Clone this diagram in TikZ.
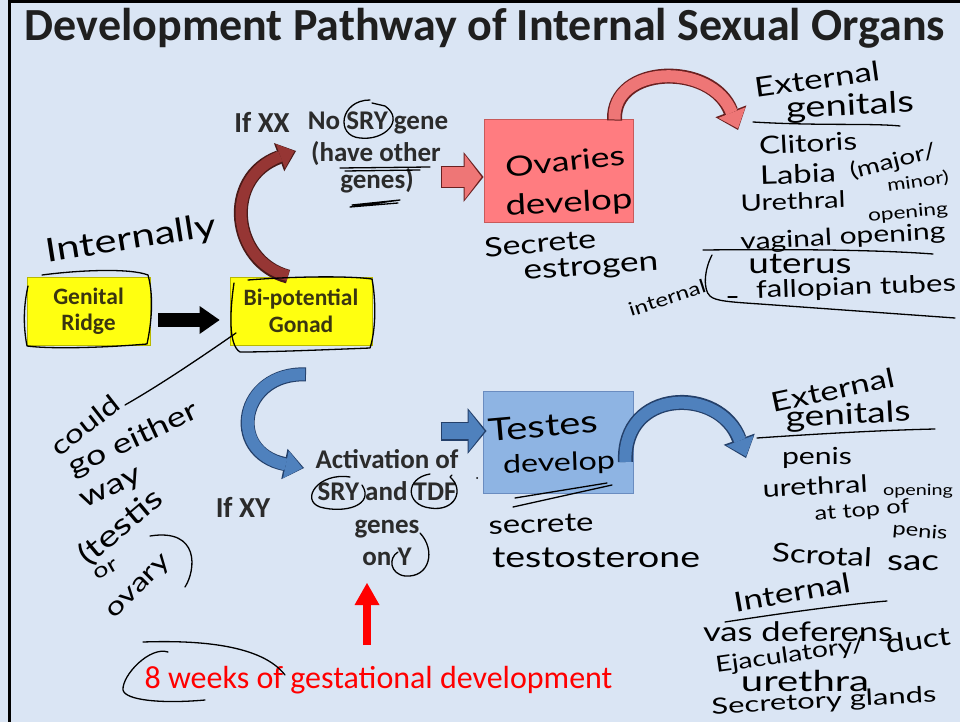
\documentclass[tikz,border=0pt]{standalone}
\usepackage{fontspec}
\setmainfont{Carlito}
\newfontfamily\hand{Lato}
\usetikzlibrary{arrows.meta,calc}
\definecolor{bg}{HTML}{DAE5F4}
\definecolor{txt}{HTML}{2B2B2B}
\definecolor{yfill}{HTML}{FFFF10}
\definecolor{ybord}{HTML}{B8B800}
\definecolor{ytext}{HTML}{3A3510}
\definecolor{pinkbox}{HTML}{FF7C80}
\definecolor{pinkbord}{HTML}{C85A5A}
\definecolor{pinkarr}{HTML}{EE7676}
\definecolor{pinkout}{HTML}{6A2020}
\definecolor{xxarr}{HTML}{963634}
\definecolor{xxout}{HTML}{4A1A18}
\definecolor{bluebox}{HTML}{8EB4E3}
\definecolor{bluebord}{HTML}{6A8CC0}
\definecolor{bluearr}{HTML}{4F81BD}
\definecolor{blueout}{HTML}{24406A}
\definecolor{redc}{HTML}{FF0000}
\newcommand\hw[3][0.78]{\scalebox{1}[#1]{\resizebox{#2pt}{!}{\hand #3}}}
\begin{document}
\begin{tikzpicture}[x=1pt,y=-1pt,
  ink/.style={draw=black,line width=1.3pt,line cap=round,line join=round},
  hwn/.style={inner sep=0pt,text=black},
  prt/.style={inner sep=0pt,text=txt,font=\bfseries\fontsize{27}{30}\selectfont,anchor=base},
  ybox/.style={draw=ybord,fill=yfill,line width=0.8pt,minimum width=#1,minimum height=68pt,align=center,text=ytext,font=\bfseries\fontsize{23.5}{26.5}\selectfont,inner sep=0pt},
  obox/.style={draw=pinkbord,fill=pinkbox,line width=1pt,minimum width=149pt,minimum height=102pt,inner sep=0pt},
  tbox/.style={draw=bluebord,fill=bluebox,line width=1pt,minimum width=150pt,minimum height=102pt,inner sep=0pt},
]
\fill[bg] (0,0) rectangle (960,722);
\useasboundingbox (0,0) rectangle (960,722);
\fill[black] (8,0) rectangle (960,3);
\fill[black] (8,0) rectangle (11,722);

% title
\node[font=\bfseries\fontsize{46}{48}\selectfont,anchor=base,text=black!88,inner sep=0pt] (title) at (485,41) {Development Pathway of Internal Sexual Organs};

% boxes
\node[ybox=123pt] (ridge) at (88.5,311) {Genital\\Ridge};
\node[ybox=142pt] (gonad) at (301,311) {Bi-potential\\Gonad};
\node[obox] (ovaries) at (558.5,171) {};
\node[tbox] (testes) at (558,442) {};

% printed texts
\node[prt,font=\bfseries\fontsize{29}{30}\selectfont] (ifxx) at (262,133) {If XX};
\node[prt] (nosry1) at (378,130) {No SRY gene};
\node[prt] (nosry2) at (376,161) {(have other};
\node[prt] (nosry3) at (377,188) {genes)};
\node[prt,font=\bfseries\fontsize{29}{30}\selectfont] (ifxy) at (243,517) {If XY};
\node[prt] (act1) at (387,468) {Activation of};
\node[prt] (act2) at (387,500) {SRY and TDF};
\node[prt] (act3) at (387,533) {genes};
\node[prt] (act4) at (387,565) {on Y};
\node[inner sep=0pt,anchor=base,text=redc,font=\fontsize{32}{34}\selectfont] (weeks) at (378.5,688) {8 weeks of gestational development};

% coordinates for free ends
\coordinate (xxtip) at (296,151);
\coordinate (xytip) at (304,468);
\coordinate (extF) at (738,130);
\coordinate (extM) at (746,458);
\coordinate (redtail) at (367,645);
\coordinate (redtip) at (367,583);

% black block arrow
\draw[draw=black,line width=14pt,-{Triangle[length=20pt,width=28pt,line width=0pt]}] ([shift={(8,9)}]ridge.east) -- ([shift={(-10,9)}]gonad.west);

% XX curved arrow
\draw[draw=xxout,line width=14pt,-{Triangle[length=18pt,width=30pt,line width=0pt]}] ([xshift=-13pt]gonad.north) .. controls (232,262) and (222,178) .. (xxtip);
\draw[draw=xxarr,line width=11pt,-{Triangle[length=15pt,width=26pt,line width=0pt]}] ([shift={(-13,-1)}]gonad.north) .. controls (232,262) and (222,178) .. ([xshift=-1.5pt]xxtip);

% XY curved arrow
\draw[draw=blueout,line width=14pt,-{Triangle[length=20pt,width=31pt,line width=0pt]}] ([shift={(5,29)}]gonad.south) .. controls (240,372) and (226,452) .. (xytip);
\draw[draw=bluearr,line width=12pt,-{Triangle[length=17pt,width=28pt,line width=0pt]}] ([shift={(4,29)}]gonad.south) .. controls (240,372) and (226,452) .. ([xshift=-1.5pt]xytip);

% pink block arrow
\draw[draw=pinkout,line width=22pt,-{Triangle[length=20pt,width=50pt,line width=0pt]}] ([shift={(-43,6)}]ovaries.west) -- ([shift={(0,6)}]ovaries.west);
\draw[draw=pinkarr,line width=19pt,-{Triangle[length=17pt,width=45pt,line width=0pt]}] ([shift={(-42,6)}]ovaries.west) -- ([shift={(-2,6)}]ovaries.west);

% blue block arrow
\draw[draw=blueout,line width=19pt,-{Triangle[length=19pt,width=46pt,line width=0pt]}] ([shift={(-42,-11)}]testes.west) -- ([shift={(4,-11)}]testes.west);
\draw[draw=bluearr,line width=16pt,-{Triangle[length=16pt,width=41pt,line width=0pt]}] ([shift={(-41,-11)}]testes.west) -- ([shift={(2,-11)}]testes.west);

% pink arc arrow
\draw[draw=pinkout,line width=15pt,-{Triangle[length=20pt,width=33pt,line width=0pt]}] ([shift={(56,1)}]ovaries.north) .. controls (612,64) and (712,62) .. (extF);
\draw[draw=pinkarr,line width=12pt,-{Triangle[length=17pt,width=29pt,line width=0pt]}] ([shift={(56,0)}]ovaries.north) .. controls (612,64) and (712,62) .. ([yshift=1.5pt]extF);

% blue arc arrow
\draw[draw=blueout,line width=15pt,-{Triangle[length=20pt,width=33pt,line width=0pt]}] ([shift={(-8,20)}]testes.east) .. controls (622,388) and (720,386) .. (extM);
\draw[draw=bluearr,line width=12pt,-{Triangle[length=17pt,width=29pt,line width=0pt]}] ([shift={(-8,20)}]testes.east) .. controls (622,388) and (720,386) .. ([yshift=1.5pt]extM);

% red arrow
\draw[draw=redc,line width=8pt,-{Triangle[length=22pt,width=25pt,line width=0pt]}] (redtail) -- (redtip);

% ---------- handwriting ----------
\node[hwn,rotate=9] (internally) at (131,240) {\hw{172}{Internally}};
\node[hwn,rotate=6] (ovar) at (565,161) {\hw{120}{Ovaries}};
\node[hwn,rotate=3] (odev) at (569,204) {\hw{127}{develop}};
\node[hwn,rotate=5] (secr1) at (540,243) {\hw{112}{Secrete}};
\node[hwn,rotate=4] (estr) at (591,268) {\hw{135}{estrogen}};
\node[hwn,rotate=18] (intl) at (667,298) {\hw{80}{internal}};
\node[hwn,rotate=8] (ext1) at (817,79) {\hw{126}{External}};
\node[hwn,rotate=3] (gen1) at (850,107) {\hw{128}{genitals}};
\node[hwn,rotate=3] (clit) at (808,143) {\hw{98}{Clitoris}};
\node[hwn,rotate=2] (labia) at (798,174) {\hw{76}{Labia}};
\node[hwn,rotate=14] (major) at (893,162) {\hw{88}{(major/}};
\node[hwn,rotate=8] (minor) at (918,182) {\hw{62}{minor)}};
\node[hwn,rotate=2] (ureth1) at (793,201) {\hw{105}{Urethral}};
\node[hwn,rotate=5] (open1) at (908,213) {\hw{80}{opening}};
\node[hwn,rotate=3] (vag) at (843,238) {\hw{205}{vaginal opening}};
\node[hwn] (uter) at (800,264) {\hw{103}{uterus}};
\node[hwn,rotate=2] (fallo) at (856,288) {\hw{200}{fallopian tubes}};

\node[hwn,rotate=5] (test) at (543,426) {\hw{110}{Testes}};
\node[hwn,rotate=2] (tdev) at (559,464) {\hw{112}{develop}};
\node[hwn,rotate=2] (secr2) at (541,524) {\hw{105}{secrete}};
\node[hwn] (testo) at (596,558) {\hw{208}{testosterone}};
\node[hwn,rotate=12] (ext2) at (833,390) {\hw{125}{External}};
\node[hwn,rotate=3] (gen2) at (848,416) {\hw{125}{genitals}};
\node[hwn] (pen1) at (817,458) {\hw{70}{penis}};
\node[hwn,rotate=3] (ureth2) at (815,486) {\hw{105}{urethral}};
\node[hwn] (open2) at (918,491) {\hw{70}{opening}};
\node[hwn,rotate=5] (attop) at (862,511) {\hw{95}{at top of}};
\node[hwn,rotate=-5] (pen2) at (920,532) {\hw{55}{penis}};
\node[hwn,rotate=-3] (scro) at (822,555) {\hw{100}{Scrotal}};
\node[hwn] (sac) at (913,563) {\hw{52}{sac}};
\node[hwn,rotate=10] (intn) at (792,592) {\hw{118}{Internal}};
\node[hwn] (vas) at (798,632) {\hw{190}{vas deferens}};
\node[hwn,rotate=8] (ejac) at (790,656) {\hw{150}{Ejaculatory/}};
\node[hwn,rotate=8] (duct) at (918,640) {\hw{65}{duct}};
\node[hwn] (ure3) at (805,681) {\hw[0.72]{128}{urethra}};
\node[hwn,rotate=3] (secg) at (824,702) {\hw[0.72]{225}{Secretory glands}};

\node[hwn,rotate=38] (could) at (85,425) {\hw{80}{could}};
\node[hwn,rotate=25] (goeither) at (134,440) {\hw{140}{go either}};
\node[hwn,rotate=25] (way) at (112,490) {\hw{65}{way}};
\node[hwn,rotate=40] (testis) at (121,527) {\hw{100}{(testis}};
\node[hwn,rotate=30] (orw) at (106,570) {\hw{25}{or}};
\node[hwn,rotate=45] (ovary) at (140,588) {\hw{80}{ovary}};

% ---------- ink strokes ----------
% loops around yellow boxes
\draw[ink] (42,275) .. controls (80,270) and (130,268) .. (148,275) .. controls (155,300) and (150,330) .. (147,344) .. controls (100,348) and (50,349) .. (27,346) .. controls (22,320) and (25,300) .. (28,286);
\draw[ink] (248,280) .. controls (300,276) and (350,276) .. (372,279) .. controls (376,300) and (376,330) .. (370,348) .. controls (320,350) and (270,352) .. (240,352) .. controls (228,345) and (230,310) .. (234,283);
% line from gonad to "could"
\draw[ink] (236,333) .. controls (200,358) and (160,385) .. (125,405);
\draw[ink] (150,536) .. controls (200,528) and (196,570) .. (185,587);
% SRY circle top
\draw[ink] (370,100) .. controls (340,100) and (335,136) .. (360,138) .. controls (385,141) and (405,120) .. (385,106) -- (372,103);
% underlines
\draw[ink] (340,168) -- (430,167);
\draw[ink] (345,171) -- (420,170);
\draw[ink] (352,205) -- (400,200) -- (350,207) -- (398,203);
% circles in activation
\draw[ink] (350,477) .. controls (318,472) and (300,500) .. (320,507) .. controls (345,514) and (375,505) .. (362,485);
\draw[ink] (430,474) .. controls (405,478) and (405,505) .. (430,508) .. controls (455,512) and (465,490) .. (450,477) -- (452,475);
\draw[ink] (420,533) .. controls (436,550) and (430,578) .. (405,576) .. controls (390,574) and (388,558) .. (398,552);
% loop around 8 weeks
\draw[ink] (143,642) .. controls (200,640) and (262,645) .. (285,675);
\draw[ink] (168,652) .. controls (150,646) and (122,675) .. (123,690) .. controls (125,700) and (160,704) .. (205,700);
% right side underlines
\draw[ink] (753,122) .. controls (820,126) and (870,123) .. (900,126);
\draw[ink] (703,250) .. controls (800,249) and (880,250) .. (933,254);
\draw[ink] (712,255) .. controls (704,270) and (703,290) .. (710,296) .. controls (715,301) and (730,302) .. (760,304) -- (955,318);
\draw[ink] (728,297) -- (737,297);
\draw[ink] (757,438) .. controls (830,433) and (890,430) .. (935,429);
\draw[ink] (725,622) .. controls (790,612) and (850,604) .. (887,601);
% scribble under testes develop
\draw[ink] (515,498) -- (607,483);
\draw[ink] (513,507) -- (612,485);
\fill[black] (477,478) circle (1pt);
\end{tikzpicture}
\end{document}
